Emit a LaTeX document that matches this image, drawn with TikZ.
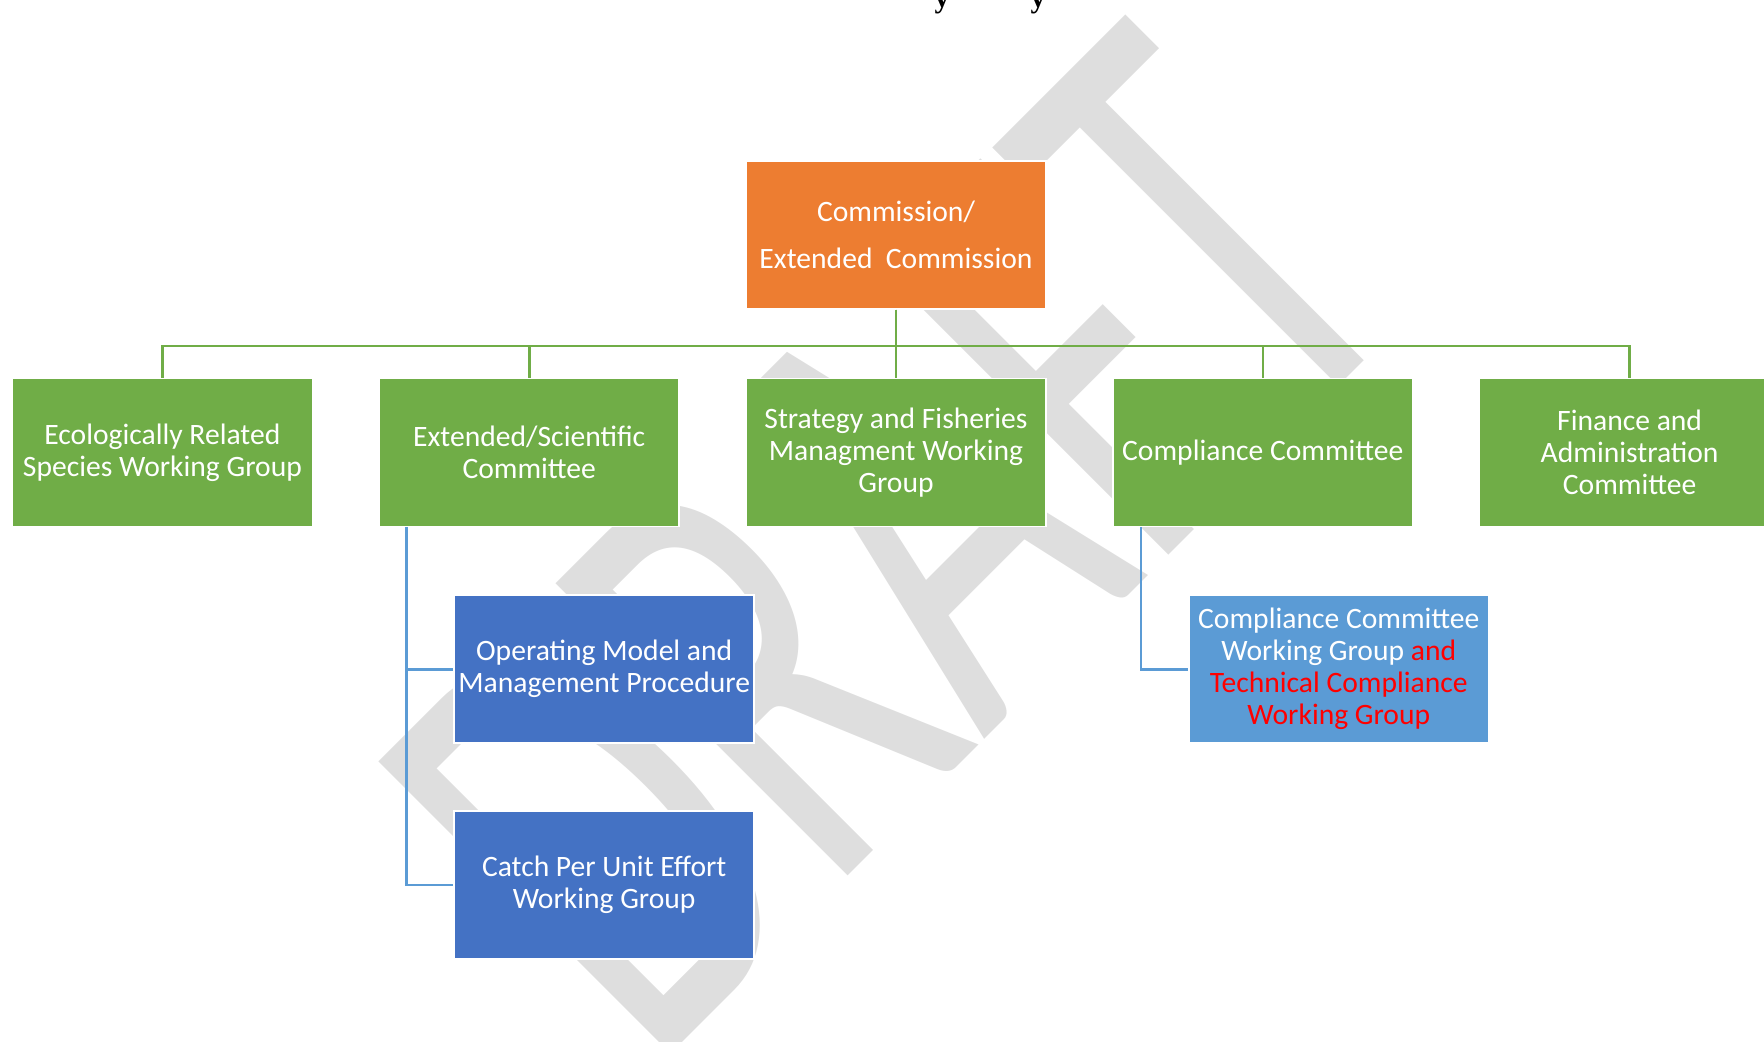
\documentclass[tikz,border=0pt]{standalone}
\usepackage{fontspec}
\setmainfont{Carlito}
\newfontfamily\headfont{Liberation Serif}
\usepackage{tikz}
\usetikzlibrary{calc,positioning}
\definecolor{orgorange}{HTML}{ED7D31}
\definecolor{orggreen}{HTML}{70AD47}
\definecolor{orgblue}{HTML}{4472C4}
\definecolor{orglight}{HTML}{5B9BD5}
\definecolor{wmgray}{RGB}{222,222,222}
\tikzset{
orgchart/.style={
every node/.style={font=\fontsize{14.8}{16}\selectfont, text=white, align=center},
orgbox/.style={draw=white, line width=0.8pt, minimum width=150pt, minimum height=74pt, inner sep=2pt},
commbox/.style={orgbox, fill=orgorange},
cttbox/.style={orgbox, fill=orggreen},
wgbox/.style={orgbox, fill=orgblue},
subbox/.style={orgbox, fill=orglight},
bus/.style={draw=orggreen, line width=1.3pt},
branch/.style={draw=orglight, line width=1.3pt},
node distance=34pt and 32.6pt,
}}

\begin{document}
\begin{tikzpicture}[orgchart]
\useasboundingbox (0,0) rectangle (882pt,-520.5pt);
\node[text=wmgray, rotate=45, inner sep=0pt, font=\fontsize{322}{322}\selectfont] (draft) at (445pt,-271pt) {\scalebox{0.63}[1]{DRAFT}};
\node[text=black, anchor=base, font=\headfont\bfseries\fontsize{15}{15}\selectfont] (tail1) at (471pt,-3.5pt) {y};
\node[text=black, anchor=base, font=\headfont\bfseries\fontsize{15}{15}\selectfont] (tail2) at (519pt,-3.5pt) {y};
%
\node[commbox] (comm) at (448pt,-117.5pt) {Commission/\\[7.5pt]Extended\ \ Commission};
\node[cttbox, below=of comm] (sfm) {Strategy and Fisheries\\Managment Working\\Group};
\node[cttbox, left=of sfm] (sci) {Extended/Scientific\\Committee};
\node[cttbox, left=of sci] (eco) {Ecologically Related\\Species Working Group};
\node[cttbox, right=of sfm] (cc) {Compliance Committee};
\node[cttbox, right=of cc] (fac) {Finance and\\Administration\\Committee};
%
\node[wgbox, below right=33.5pt and 37.5pt of sci.south west] (ompwg) {Operating Model and\\Management Procedure};
\node[wgbox, below=33pt of ompwg] (cpuewg) {Catch Per Unit Effort\\Working Group};
\node[subbox, below right=33.5pt and 38pt of cc.south west] (ccwg) {Compliance Committee\\Working Group \textcolor{red}{and}\\\textcolor{red}{Technical Compliance}\\\textcolor{red}{Working Group}};
%
\foreach \n in {eco,sci,sfm,cc,fac}
  \draw[bus] (comm.south) -- ++(0,-18pt) -| (\n.north);
\draw[branch] ([xshift=14pt]sci.south west) |- (ompwg.west);
\draw[branch] ([xshift=14pt]sci.south west) |- (cpuewg.west);
\draw[branch] ([xshift=14.5pt]cc.south west) |- (ccwg.west);
\end{tikzpicture}
\end{document}
